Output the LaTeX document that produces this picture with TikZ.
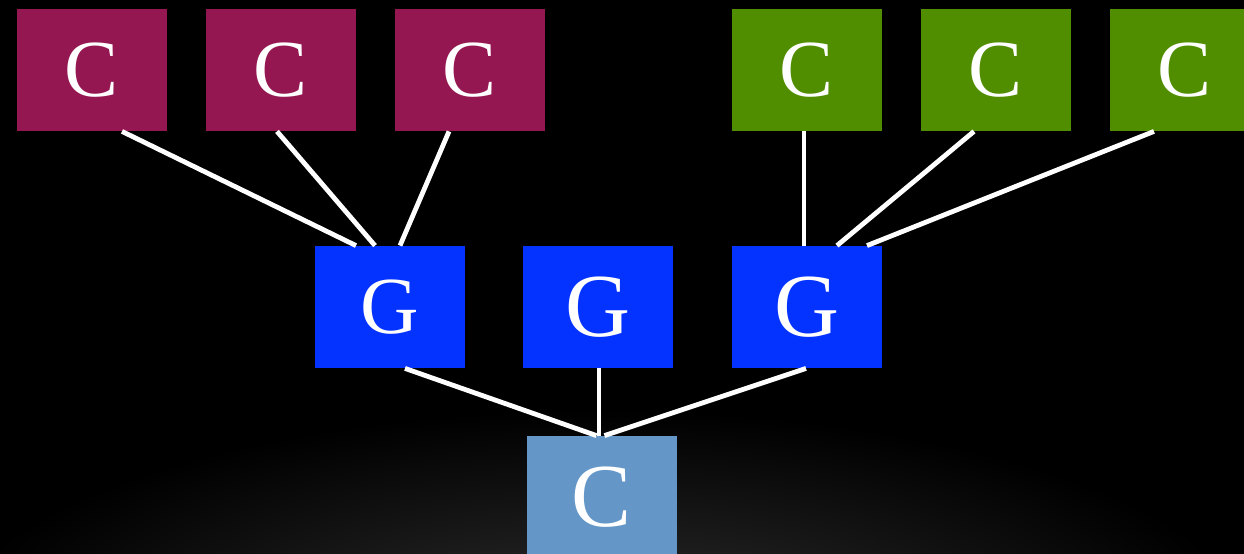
\documentclass[tikz,border=0pt]{standalone}
\usepackage{fontspec}
\setmainfont{Liberation Serif}
\usetikzlibrary{calc}
\definecolor{cmaroon}{RGB}{149,23,81}
\definecolor{cgreen}{RGB}{80,142,0}
\definecolor{cblue}{RGB}{4,51,255}
\definecolor{clight}{RGB}{100,151,199}
\definecolor{glow}{RGB}{48,48,48}
\begin{document}
\begin{tikzpicture}[x=0.5pt,y=-0.5pt,
  box/.style={rectangle, inner sep=0pt, minimum width=75pt, minimum height=61pt,
    text=white, font=\fontsize{45}{45}\selectfont},
  smallbox/.style={box, font=\fontsize{40.5}{40.5}\selectfont},
  link/.style={white, line width=2.4pt}]
\useasboundingbox (0,0) rectangle (1244,553);
\fill[black] (-10,-10) rectangle (1254,563);
\begin{scope}
\clip (-10,-10) rectangle (1254,563);
\shade[inner color=glow, outer color=black] (600,640) ellipse (660 and 230);
\end{scope}
% top row
\node[smallbox, fill=cmaroon] (c1) at (92,70) {C};
\node[smallbox, fill=cmaroon] (c2) at (281,70) {C};
\node[smallbox, fill=cmaroon] (c3) at (470,70) {C};
\node[smallbox, fill=cgreen] (c4) at (807,70) {C};
\node[smallbox, fill=cgreen] (c5) at (996,70) {C};
\node[smallbox, fill=cgreen] (c6) at (1185,70) {C};
% middle row
\node[smallbox, fill=cblue] (g1) at (390,307) {G};
\node[box, fill=cblue] (g2) at (598,307) {G};
\node[box, fill=cblue] (g3) at (807,307) {G};
% bottom
\node[box, fill=clight] (r) at (601.5,497) {C};
% links
\draw[link] ($(c1.south)+(30,0)$) -- ($(g1.north)+(-34,0)$);
\draw[link] ($(c2.south)+(-4,0)$) -- ($(g1.north)+(-15,0)$);
\draw[link] ($(c3.south)+(-21,0)$) -- ($(g1.north)+(10,0)$);
\draw[link] ($(c4.south)+(-3,0)$) -- ($(g3.north)+(-3,0)$);
\draw[link] ($(c5.south)+(-22,0)$) -- ($(g3.north)+(30,0)$);
\draw[link] ($(c6.south)+(-31,0)$) -- ($(g3.north)+(60,0)$);
\draw[link] ($(g1.south)+(15,0)$) -- ($(r.north)+(-5,0)$);
\draw[link] ($(g2.south)+(1,0)$) -- ($(r.north)+(-2.5,0)$);
\draw[link] ($(g3.south)+(-1,0)$) -- ($(r.north)+(3,0)$);
\end{tikzpicture}
\end{document}
